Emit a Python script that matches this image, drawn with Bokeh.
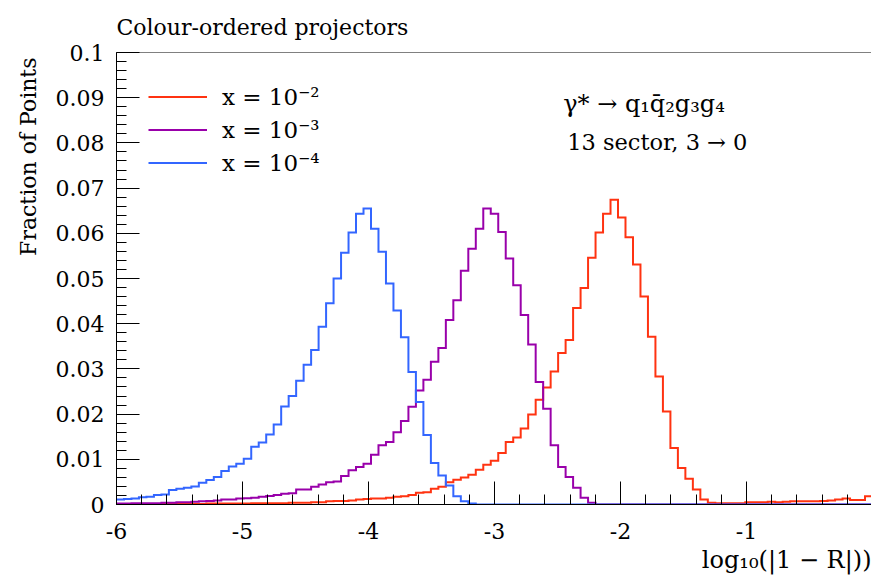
import numpy as np
from bokeh.plotting import figure
from bokeh.models import (Range1d, LinearAxis, SingleIntervalTicker, FixedTicker,
                          Label, Legend, LegendItem, CustomJSTickFormatter, Title)
from bokeh.embed import file_html
from bokeh.resources import INLINE

# ---------------- data ----------------
BIN_LO, BIN_HI, N_BINS = -6.0, 0.0, 101
bin_edges = np.linspace(BIN_LO, BIN_HI, N_BINS + 1)

frac_x1e2 = [0.0000, 0.0000, 0.0000, 0.0001, 0.0001, 0.0001, 0.0001, 0.0001, 0.0001, 0.0001,
             0.0001, 0.0001, 0.0002, 0.0002, 0.0002, 0.0002, 0.0002, 0.0002, 0.0003, 0.0003,
             0.0003, 0.0003, 0.0003, 0.0004, 0.0004, 0.0004, 0.0005, 0.0005, 0.0007, 0.0008,
             0.0008, 0.0009, 0.0011, 0.0012, 0.0013, 0.0013, 0.0015, 0.0017, 0.0018, 0.0021,
             0.0026, 0.0027, 0.0035, 0.0039, 0.0049, 0.0055, 0.0060, 0.0066, 0.0077, 0.0088,
             0.0097, 0.0114, 0.0138, 0.0148, 0.0168, 0.0199, 0.0232, 0.0259, 0.0294, 0.0335,
             0.0364, 0.0435, 0.0479, 0.0546, 0.0602, 0.0643, 0.0674, 0.0635, 0.0591, 0.0531,
             0.0460, 0.0371, 0.0283, 0.0206, 0.0125, 0.0081, 0.0057, 0.0033, 0.0011, 0.0004,
             0.0003, 0.0003, 0.0003, 0.0003, 0.0005, 0.0005, 0.0005, 0.0006, 0.0005, 0.0006,
             0.0007, 0.0007, 0.0007, 0.0007, 0.0008, 0.0009, 0.0011, 0.0013, 0.0010, 0.0010,
             0.0018]

frac_x1e3 = [0.0002, 0.0002, 0.0003, 0.0003, 0.0003, 0.0003, 0.0004, 0.0004, 0.0005, 0.0005,
             0.0006, 0.0007, 0.0008, 0.0009, 0.0011, 0.0011, 0.0013, 0.0014, 0.0015, 0.0017,
             0.0019, 0.0021, 0.0024, 0.0025, 0.0033, 0.0033, 0.0039, 0.0044, 0.0049, 0.0051,
             0.0063, 0.0076, 0.0083, 0.0090, 0.0110, 0.0131, 0.0138, 0.0160, 0.0185, 0.0216,
             0.0252, 0.0276, 0.0316, 0.0346, 0.0408, 0.0452, 0.0517, 0.0566, 0.0610, 0.0655,
             0.0643, 0.0603, 0.0544, 0.0485, 0.0419, 0.0354, 0.0271, 0.0212, 0.0131, 0.0083,
             0.0061, 0.0037, 0.0015, 0.0004, 0.0000, 0.0000, 0.0000, 0.0000, 0.0000, 0.0000,
             0.0000, 0.0000, 0.0000, 0.0000, 0.0000, 0.0000, 0.0000, 0.0000, 0.0000, 0.0000,
             0.0000, 0.0000, 0.0000, 0.0000, 0.0000, 0.0000, 0.0000, 0.0000, 0.0000, 0.0000,
             0.0000, 0.0000, 0.0000, 0.0000, 0.0000, 0.0000, 0.0000, 0.0000, 0.0000, 0.0000,
             0.0000]

frac_x1e4 = [0.0011, 0.0012, 0.0013, 0.0016, 0.0017, 0.0021, 0.0022, 0.0032, 0.0035, 0.0037,
             0.0040, 0.0048, 0.0054, 0.0061, 0.0074, 0.0084, 0.0090, 0.0101, 0.0128, 0.0137,
             0.0155, 0.0177, 0.0217, 0.0240, 0.0274, 0.0309, 0.0342, 0.0393, 0.0445, 0.0500,
             0.0557, 0.0602, 0.0643, 0.0655, 0.0610, 0.0559, 0.0489, 0.0429, 0.0370, 0.0293,
             0.0227, 0.0154, 0.0092, 0.0064, 0.0042, 0.0018, 0.0007, 0.0002, 0.0000, 0.0000,
             0.0000, 0.0000, 0.0000, 0.0000, 0.0000, 0.0000, 0.0000, 0.0000, 0.0000, 0.0000,
             0.0000, 0.0000, 0.0000, 0.0000, 0.0000, 0.0000, 0.0000, 0.0000, 0.0000, 0.0000,
             0.0000, 0.0000, 0.0000, 0.0000, 0.0000, 0.0000, 0.0000, 0.0000, 0.0000, 0.0000,
             0.0000, 0.0000, 0.0000, 0.0000, 0.0000, 0.0000, 0.0000, 0.0000, 0.0000, 0.0000,
             0.0000, 0.0000, 0.0000, 0.0000, 0.0000, 0.0000, 0.0000, 0.0000, 0.0000, 0.0000,
             0.0000]

series_labels = ["x = 10\u207b\u00b2", "x = 10\u207b\u00b3", "x = 10\u207b\u2074"]
series_colors = ["#ff3311", "#9900aa", "#3366ff"]
series_values = [frac_x1e2, frac_x1e3, frac_x1e4]

title_text = "Colour-ordered projectors"
y_title = "Fraction of Points"
x_title = "log\u2081\u2080(|1 \u2212 R|))"
process_text = "\u03b3* \u2192 q\u2081q\u0304\u2082g\u2083g\u2084"
sector_text = "13 sector, 3 \u2192 0"

FONT = "DejaVu Serif"
FS = "22px"

# ---------------- figure ----------------
p = figure(width=871, height=576, x_range=Range1d(-6, -0.008), y_range=Range1d(0, 0.1),
           output_backend="svg", toolbar_location=None,
           min_border_left=116, min_border_right=0, min_border_top=52, min_border_bottom=71)
p.xgrid.visible = False
p.ygrid.visible = False
p.outline_line_color = None
p.background_fill_color = "white"
p.border_fill_color = "white"

xa = p.xaxis[0]
xa.ticker = SingleIntervalTicker(interval=1, num_minor_ticks=5)
xa.formatter = CustomJSTickFormatter(code="return tick.toFixed(0)")
ya = p.yaxis[0]
ya.ticker = SingleIntervalTicker(interval=0.01, num_minor_ticks=5)
ya.formatter = CustomJSTickFormatter(
    code="return tick.toFixed(2).replace(/0+$/, '').replace(/\\.$/, '')")
for ax in (xa, ya):
    ax.major_tick_in = 23
    ax.major_tick_out = 0
    ax.minor_tick_in = 10
    ax.minor_tick_out = 0
    ax.axis_line_color = "black"
    ax.major_tick_line_color = "black"
    ax.minor_tick_line_color = "black"
    ax.major_label_text_font = FONT
    ax.major_label_text_font_size = FS
    ax.major_label_text_color = "black"
xa.major_label_standoff = 18
ya.major_label_standoff = 12

top = LinearAxis(ticker=FixedTicker(ticks=[]), axis_line_color="#808080",
                 major_tick_in=0, major_tick_out=0, minor_tick_in=0, minor_tick_out=0,
                 major_label_text_font_size="0px")
p.add_layout(top, "above")

items = []
for vals, col, lab in zip(series_values, series_colors, series_labels):
    yv = np.append(np.array(vals), vals[-1])
    r = p.step(x=bin_edges, y=yv, mode="after", line_color=col, line_width=2,
               line_join="miter")
    items.append(LegendItem(label=lab, renderers=[r]))

leg = Legend(items=items, location=(32, 325), orientation="vertical",
             glyph_width=59, glyph_height=33, label_height=33, label_standoff=15,
             spacing=0, padding=0, margin=0, border_line_alpha=0, background_fill_alpha=0,
             label_text_font=FONT, label_text_font_size="23px", label_text_color="black")
p.add_layout(leg, "center")

# titles outside the frame
p.add_layout(Title(text=title_text, align="left", text_font=FONT, text_font_size=FS,
                   text_font_style="normal", text_color="black", offset=0, standoff=25),
             "above")
p.add_layout(Title(text=x_title, align="right", text_font=FONT, text_font_size="24px",
                   text_font_style="normal", text_color="black", standoff=5),
             "below")
p.add_layout(Title(text=y_title, align="right", text_font=FONT, text_font_size=FS,
                   text_font_style="normal", text_color="black", standoff=23, offset=5),
             "left")

p.add_layout(Label(x=-2.455, y=0.0887, text=process_text, text_font=FONT, text_font_size="24px",
                   text_align="left", text_baseline="middle", text_color="black"))
p.add_layout(Label(x=-2.423, y=0.0801, text=sector_text, text_font=FONT, text_font_size="22.5px",
                   text_align="left", text_baseline="middle", text_color="black"))

open("out.html", "w").write(file_html(p, INLINE))
